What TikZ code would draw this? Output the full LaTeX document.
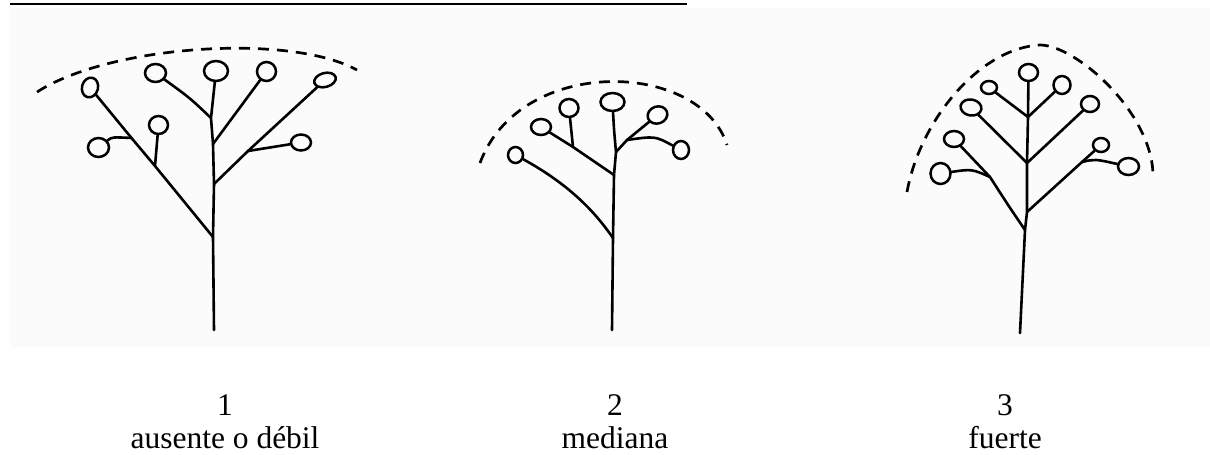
\documentclass[tikz,border=0pt]{standalone}
\usepackage{fontspec}
\setmainfont{Liberation Serif}
\usetikzlibrary{shapes.geometric}
\tikzset{
  stem/.style={line width=2.6pt, line cap=round, line join=round},
  bud/.style 2 args={draw, ellipse, inner sep=0pt, line width=2.5pt,
                     minimum width=#1, minimum height=#2},
  crown/.style={line width=2.7pt, dash pattern=on 11pt off 8pt},
  lbl/.style={anchor=base, inner sep=0pt, font=\fontsize{31.5}{33}\selectfont},
}
\begin{document}
\begin{tikzpicture}[x=1pt,y=-1pt]
\useasboundingbox (0,0) rectangle (1210,455);
% paper tone of the drawing area and heading rule
\fill[black!1.5] (10,8) rectangle (1210,347);
\draw[line width=2pt] (10,3.7) -- (687,3.7);

% ---------------- plant 1: flat top ----------------
\node[bud={16}{20}, rotate=-15] (c11) at (90,87.5) {};
\node[bud={21}{18}] (c12) at (155.5,73) {};
\node[bud={24}{20}] (c13) at (216,71) {};
\node[bud={19}{19}] (c14) at (266.5,71.5) {};
\node[bud={22}{14}, rotate=15] (c15) at (325,80) {};
\node[bud={19}{18}] (c16) at (158.5,125) {};
\node[bud={21}{19}] (c17) at (98.5,147.5) {};
\node[bud={20}{16}] (c18) at (301,142.5) {};
\coordinate (r1) at (214,330);
\coordinate (j11) at (213,237);
\coordinate (j12) at (214,184);
\coordinate (j13) at (213,144);
\coordinate (j14) at (211,118);
\coordinate (k11) at (155,166);
\coordinate (k12) at (131.5,138);
\coordinate (k13) at (248,151);
\draw[stem] (r1) -- (j11) -- (j12) -- (j13) -- (j14) -- (c13);
\draw[stem] (j11) -- (k11) -- (k12) -- (c11);
\draw[stem] (k11) -- (c16);
\draw[stem] (k12) .. controls (112,137) .. (c17);
\draw[stem] (j14) .. controls (190,98) .. (c12);
\draw[stem] (j13) -- (c14);
\draw[stem] (j12) -- (k13) -- (c15);
\draw[stem] (k13) -- (c18);
\draw[crown] (37,92) .. controls (110,45) and (290,33) .. (357,70);

% ---------------- plant 2: medium dome ----------------
\node[bud={15}{16}] (c21) at (515.5,155) {};
\node[bud={20}{16}] (c22) at (541,127) {};
\node[bud={19}{18}] (c23) at (569,108) {};
\node[bud={24}{18}] (c24) at (612.5,102) {};
\node[bud={20}{17}, rotate=20] (c25) at (657.5,115) {};
\node[bud={16}{18}] (c26) at (681,150) {};
\coordinate (r2) at (612,330);
\coordinate (j21) at (613,238);
\coordinate (j22) at (614,175);
\coordinate (j23) at (616,152);
\coordinate (k21) at (573,147);
\coordinate (k22) at (627,140);
\draw[stem] (r2) -- (j21) -- (j22) -- (j23) .. controls (614,130) .. (c24);
\draw[stem] (j21) .. controls (595,212) and (570,185) .. (c21);
\draw[stem] (j22) -- (k21) -- (c22);
\draw[stem] (k21) -- (c23);
\draw[stem] (j23) -- (k22) -- (c25);
\draw[stem] (k22) .. controls (655,136) .. (c26);
\draw[crown] (480,163) .. controls (520,55) and (700,60) .. (727,145);

% ---------------- plant 3: strong dome ----------------
\node[bud={19}{17}] (c31) at (1028.5,72.5) {};
\node[bud={16}{13}] (c32) at (989,87.5) {};
\node[bud={17}{18}] (c33) at (1062,85) {};
\node[bud={21}{16}, rotate=-10] (c34) at (971,107.5) {};
\node[bud={18}{16}] (c35) at (1090,104) {};
\node[bud={20}{16}] (c36) at (954,139) {};
\node[bud={20}{21}] (c37) at (940.5,173.5) {};
\node[bud={16}{14}] (c38) at (1101,145) {};
\node[bud={21}{17}] (c39) at (1128.5,166.5) {};
\coordinate (r3) at (1020,333);
\coordinate (j31) at (1025,230);
\coordinate (j32) at (1027,212);
\coordinate (j33) at (1027,163);
\coordinate (j34) at (1028,117);
\coordinate (k31) at (990,177);
\coordinate (k32) at (1082,162);
\draw[stem] (r3) -- (j31) -- (j32) -- (j33) -- (j34) -- (c31);
\draw[stem] (j31) .. controls (1008,205) .. (k31) -- (c36);
\draw[stem] (k31) .. controls (972,169) .. (c37);
\draw[stem] (j32) -- (k32) -- (c38);
\draw[stem] (k32) .. controls (1095,159) .. (c39);
\draw[stem] (j33) -- (c35);
\draw[stem] (j33) -- (c34);
\draw[stem] (j34) -- (c32);
\draw[stem] (j34) -- (c33);
\draw[crown] (907,192) .. controls (920,120) and (980,48) .. (1040,45)
             .. controls (1075,45) and (1150,110) .. (1153,173);

% ---------------- captions ----------------
\node[lbl] (n1) at (225,415) {1};
\node[lbl] (t1) at (225,448) {ausente o débil};
\node[lbl] (n2) at (615,415) {2};
\node[lbl] (t2) at (615,448) {mediana};
\node[lbl] (n3) at (1005,415) {3};
\node[lbl] (t3) at (1005,448) {fuerte};
\end{tikzpicture}
\end{document}
